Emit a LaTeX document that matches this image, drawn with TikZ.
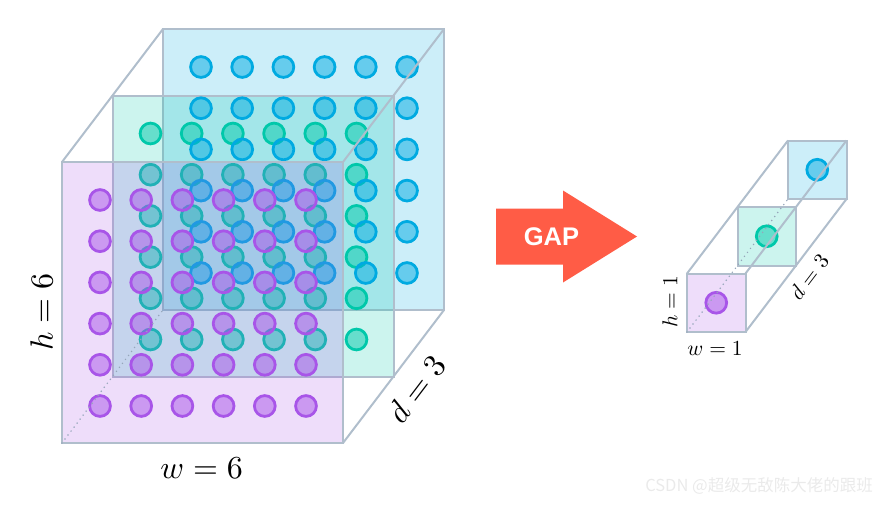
\documentclass[tikz,border=0pt]{standalone}
\usepackage{fontspec}
\newfontfamily\gapFont{Liberation Sans}
\newfontfamily\markFont{Noto Sans CJK SC}
\usetikzlibrary{calc}
\definecolor{gapPurple}{RGB}{168,85,232}
\definecolor{gapTeal}{RGB}{0,200,170}
\definecolor{gapBlue}{RGB}{0,170,225}
\definecolor{gapEdge}{RGB}{176,190,204}
\definecolor{gapDots}{RGB}{150,166,186}
\definecolor{gapRed}{RGB}{255,92,70}
\definecolor{gapMark}{RGB}{234,234,234}

\begin{document}
\begin{tikzpicture}[
  x=1pt, y=-1pt,
  face/.style={draw=gapEdge, line width=2pt, fill opacity=0.2},
  dot/.style={line width=2.8pt, fill opacity=0.5},
  edge/.style={gapEdge, line width=2pt},
  hidden/.style={gapDots, line width=1.7pt, line cap=round, dash pattern=on 0pt off 5pt},
  biglabel/.style={inner sep=0pt, scale=3.2},
  smalllabel/.style={inner sep=0pt, scale=2.15}
]
  \useasboundingbox (0,0) rectangle (888,506);

  % input feature map, 6 x 6 x 3
  \coordinate (frontTL) at (62,162);
  \coordinate (frontTR) at (343,162);
  \coordinate (frontBR) at (343,443);
  \coordinate (frontBL) at (62,443);
  \coordinate (backTL) at (163,29);
  \coordinate (backTR) at (444,29);
  \coordinate (backBR) at (444,310);
  \coordinate (backBL) at (163,310);

  \foreach \k/\col in {2/gapBlue,1/gapTeal}
    \draw[face,fill=\col] (62+\k*50.5,162-\k*66.5) rectangle ++(281,281);
  \foreach \k/\col in {1/gapTeal,2/gapBlue}
    \foreach \i in {0,...,5}
      \foreach \j in {0,...,5}
        \draw[dot,draw=\col,fill=\col] (100+\k*50.5+\i*41.2,200-\k*66.5+\j*41.2) circle[radius=10.4pt];
  \draw[face,fill=gapPurple] (frontTL) rectangle (frontBR);
  \foreach \i in {0,...,5}
    \foreach \j in {0,...,5}
      \draw[dot,draw=gapPurple,fill=gapPurple] (100+\i*41.2,200+\j*41.2) circle[radius=10.4pt];

  \draw[edge] (frontTL) -- (backTL);
  \draw[edge] (frontTR) -- (backTR);
  \draw[edge] (frontBR) -- (backBR);
  \draw[hidden] (frontBL) -- (backBL);

  \node[biglabel] (bigW) at (201.7,468) {$w=6$};
  \node[biglabel,rotate=90] (bigH) at (41.5,312) {$h=6$};
  \node[biglabel,rotate=52.8] (bigD) at (416,389) {$d=3$};

  % pooling arrow
  \fill[gapRed] (496,208.5) -- (563,208.5) -- (563,190.5) -- (637,236.5)
    -- (563,282.5) -- (563,264.5) -- (496,264.5) -- cycle;
  \node[text=white,font=\gapFont\bfseries\fontsize{25.5}{25.5}\selectfont] (gap) at (551.5,236.5) {GAP};

  % output, 1 x 1 x 3
  \coordinate (colTL) at (687,273.5);
  \coordinate (colTR) at (745.5,273.5);
  \coordinate (colBR) at (745.5,332);
  \coordinate (colBL) at (687,332);
  \coordinate (colBackTL) at (788,140.5);
  \coordinate (colBackTR) at (846.5,140.5);
  \coordinate (colBackBR) at (846.5,199);
  \coordinate (colBackBL) at (788,199);

  \foreach \k/\col in {2/gapBlue,1/gapTeal,0/gapPurple}{
    \draw[face,fill=\col] (687+\k*50.5,273.5-\k*66.5) rectangle ++(58.5,58.5);
    \draw[dot,draw=\col,fill=\col] (716.25+\k*50.5,302.75-\k*66.5) circle[radius=10.4pt];
  }

  \draw[edge] (colTL) -- (colBackTL);
  \draw[edge] (colTR) -- (colBackTR);
  \draw[edge] (colBR) -- (colBackBR);
  \draw[hidden] (colBL) -- (colBackBL);

  \node[smalllabel] (smallW) at (715,349) {$w=1$};
  \node[smalllabel,rotate=90] (smallH) at (670,302) {$h=1$};
  \node[smalllabel,rotate=52.8] (smallD) at (809,277) {$d=3$};

  \node[text=gapMark,font=\markFont\fontsize{16.5}{16.5}\selectfont] (mark) at (759,486) {CSDN @超级无敌陈大佬的跟班};
\end{tikzpicture}
\end{document}
